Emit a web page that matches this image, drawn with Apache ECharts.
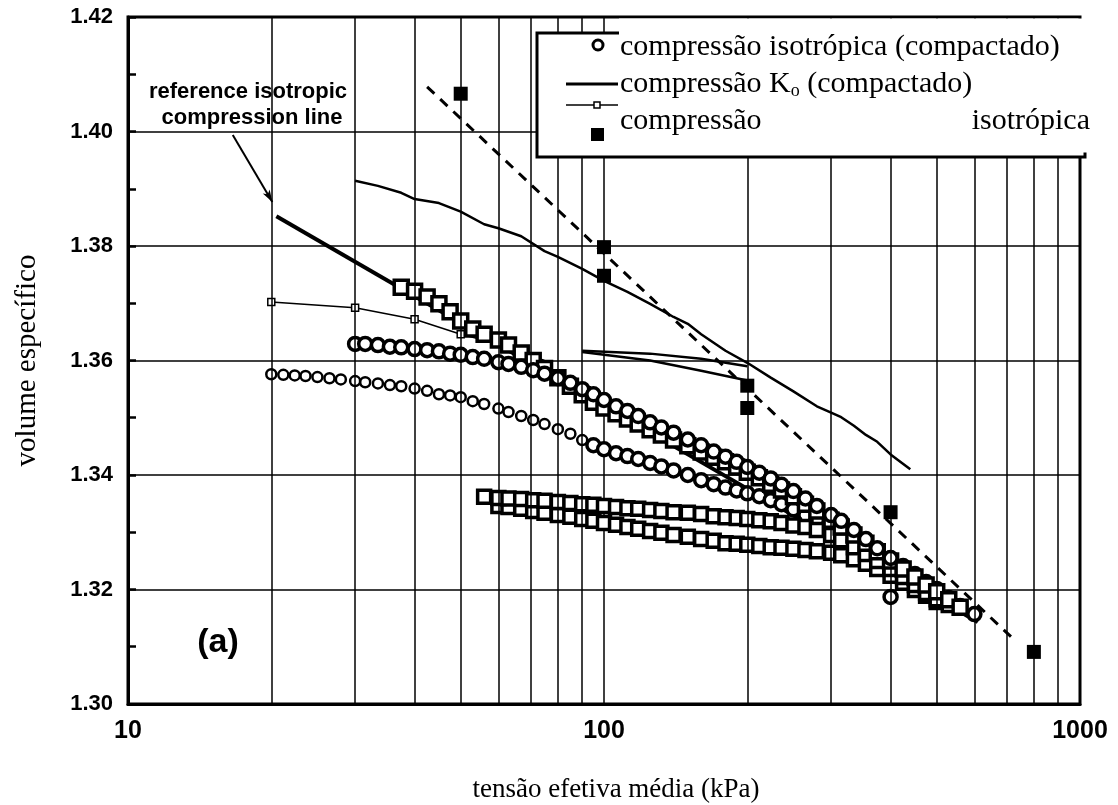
<!DOCTYPE html>
<html>
<head>
<meta charset="utf-8">
<script src="https://cdn.jsdelivr.net/npm/echarts@6/dist/echarts.min.js"></script>
<style>
html, body { margin: 0; padding: 0; background: #fff; }
#main { width: 1118px; height: 805px; }
</style>
</head>
<body>
<div id="main"></div>
<script>
// eixos
const xTicks = [10, 100, 1000];
const xMinorGrid = [20, 30, 40, 50, 60, 70, 80, 90, 200, 300, 400, 500, 600, 700, 800, 900];
const yTicks = [1.30, 1.32, 1.34, 1.36, 1.38, 1.40, 1.42];

// reference isotropic compression line
const refLine = [[20.5, 1.3852], [610, 1.3143]];

// compressão K0 (compactado)
const k0Main = [[30, 1.3914], [33.5, 1.3905], [37.5, 1.3893], [40, 1.3882], [45, 1.3875], [50, 1.3860],
  [56, 1.3838], [60, 1.3831], [67, 1.3817], [75, 1.3791], [80, 1.3781], [90, 1.3760], [100, 1.3739],
  [112, 1.3720], [125, 1.3699], [140, 1.3676], [150, 1.3664], [160, 1.3646], [180, 1.3617], [200, 1.3596],
  [224, 1.3570], [250, 1.3546], [280, 1.3520], [300, 1.3509], [315, 1.3501], [335, 1.3486], [355, 1.3470],
  [375, 1.3458], [400, 1.3436], [440, 1.3410]];
const k0LoopUp = [[90, 1.3617], [125, 1.3612], [160, 1.3603], [200, 1.3590]];
const k0LoopDown = [[90, 1.3615], [125, 1.3600], [160, 1.3582], [200, 1.3565]];

// compressão isotrópica (reconstituído)
const reconLine = [[42.5, 1.4078], [730, 1.3111]];
const reconPts = [[50, 1.4066], [100, 1.3798], [100, 1.3748], [200, 1.3556], [200, 1.3517], [400, 1.3335], [800, 1.3091]];

// linha fina com quadrados pequenos
const thinSq = [[20, 1.3702], [30, 1.3692], [40, 1.3672], [50, 1.3646]];
const thinTail = [[50, 1.3646], [60, 1.3629], [75, 1.3600]];

// compressão isotrópica (compactado) - círculos
const circlesBig = [[30, 1.3629], [31.5, 1.3629], [33.5, 1.3627], [35.5, 1.3624], [37.5, 1.3623], [40, 1.3620],
  [42.5, 1.3618], [45, 1.3616], [47.5, 1.3612], [50, 1.3610], [53, 1.3606], [56, 1.3603], [60, 1.3597],
  [63, 1.3594], [67, 1.3589], [71, 1.3583], [75, 1.3577], [80, 1.3569], [85, 1.3561], [90, 1.3550],
  [95, 1.3541], [100, 1.3531], [106, 1.3520], [112, 1.3512], [118, 1.3503], [125, 1.3492], [132, 1.3483],
  [140, 1.3474], [150, 1.3462], [160, 1.3452], [170, 1.3441], [180, 1.3432], [190, 1.3423], [200, 1.3414],
  [212, 1.3404], [224, 1.3394], [236, 1.3383], [250, 1.3372], [265, 1.3359], [280, 1.3346], [300, 1.3330],
  [315, 1.3320], [335, 1.3304], [355, 1.3288], [375, 1.3272], [400, 1.3255], [400, 1.3187]];
const circlesSmall = [[20, 1.3576], [21.2, 1.3575], [22.4, 1.3574], [23.6, 1.3573], [25, 1.3571], [26.5, 1.3569],
  [28, 1.3567], [30, 1.3564], [31.5, 1.3562], [33.5, 1.3560], [35.5, 1.3557], [37.5, 1.3555], [40, 1.3551],
  [42.5, 1.3547], [45, 1.3541], [47.5, 1.3539], [50, 1.3536], [53, 1.3529], [56, 1.3524], [60, 1.3516],
  [63, 1.3510], [67, 1.3503], [71, 1.3496], [75, 1.3489], [80, 1.3480], [85, 1.3472], [90, 1.3461],
  [95, 1.3452], [100, 1.3445], [106, 1.3438], [112, 1.3433], [118, 1.3428], [125, 1.3421], [132, 1.3415],
  [140, 1.3408], [150, 1.3400], [160, 1.3391], [170, 1.3384], [180, 1.3378], [190, 1.3373], [200, 1.3368],
  [212, 1.3363], [224, 1.3356], [236, 1.3349], [250, 1.3340], [265, 1.3330], [280, 1.3321], [300, 1.3310],
  [315, 1.3302], [335, 1.3289], [355, 1.3277], [375, 1.3266], [400, 1.3254], [425, 1.3241], [450, 1.3227],
  [475, 1.3213], [500, 1.3201], [530, 1.3185], [560, 1.3171], [600, 1.3157]];

// quadrados grandes abertos
const squaresUpper = [[37.5, 1.3728], [40, 1.3721], [42.5, 1.3711], [45, 1.3699], [47.5, 1.3685], [50, 1.3669],
  [53, 1.3655], [56, 1.3646], [60, 1.3636], [63, 1.3627], [67, 1.3613], [71, 1.3600], [75, 1.3586],
  [80, 1.3570], [85, 1.3555], [90, 1.3540], [95, 1.3527], [100, 1.3517], [106, 1.3507], [112, 1.3498],
  [118, 1.3489], [125, 1.3479], [132, 1.3470], [140, 1.3461], [150, 1.3451], [160, 1.3440], [170, 1.3431],
  [180, 1.3423], [190, 1.3414], [200, 1.3405], [212, 1.3395], [224, 1.3384], [236, 1.3374], [250, 1.3362],
  [265, 1.3349], [280, 1.3337], [300, 1.3321], [315, 1.3309], [335, 1.3295], [355, 1.3281], [375, 1.3266],
  [400, 1.3250], [425, 1.3236], [450, 1.3222], [475, 1.3208], [500, 1.3196], [530, 1.3182], [560, 1.3169]];
const squaresLowA = [[56, 1.3362], [60, 1.3360], [63, 1.3359], [67, 1.3358], [71, 1.3356], [75, 1.3355],
  [80, 1.3353], [85, 1.3351], [90, 1.3349], [95, 1.3348], [100, 1.3346], [106, 1.3344], [112, 1.3342],
  [118, 1.3341], [125, 1.3339], [132, 1.3337], [140, 1.3335], [150, 1.3334], [160, 1.3332], [170, 1.3328],
  [180, 1.3326], [190, 1.3325], [200, 1.3323], [212, 1.3321], [224, 1.3319], [236, 1.3316], [250, 1.3312],
  [265, 1.3309], [280, 1.3304], [300, 1.3295], [315, 1.3286], [335, 1.3274], [355, 1.3262], [375, 1.3250],
  [400, 1.3236], [425, 1.3222], [450, 1.3208], [475, 1.3194], [500, 1.3183], [530, 1.3173]];
const squaresLowB = [[60, 1.3346], [63, 1.3344], [67, 1.3341], [71, 1.3337], [75, 1.3334], [80, 1.3330],
  [85, 1.3327], [90, 1.3323], [95, 1.3320], [100, 1.3316], [106, 1.3313], [112, 1.3309], [118, 1.3306],
  [125, 1.3302], [132, 1.3299], [140, 1.3295], [150, 1.3292], [160, 1.3288], [170, 1.3285], [180, 1.3281],
  [190, 1.3280], [200, 1.3278], [212, 1.3276], [224, 1.3274], [236, 1.3273], [250, 1.3271], [265, 1.3269],
  [280, 1.3267], [300, 1.3264], [315, 1.3260], [335, 1.3253], [355, 1.3245], [375, 1.3236], [400, 1.3224],
  [425, 1.3212], [450, 1.3199], [475, 1.3189], [500, 1.3178]];

// seta da anotação
const arrowFrom = [16.6, 1.3994];
const arrowTo = [20.1, 1.3877];

const legendLines = ['compressão isotrópica (compactado)', '{a|compressão K}{s|o}{a| (compactado)}', 'compressão', 'isotrópica'];

var myChart = echarts.init(document.getElementById('main'));

function openMarks(name, data, symbol, size, border) {
  return {
    name: name,
    type: 'scatter',
    data: data,
    symbol: symbol,
    symbolSize: size,
    itemStyle: { color: '#fff', borderColor: '#000', borderWidth: border, opacity: 1 },
    z: 4,
    silent: true
  };
}

function plainLine(data, width, type) {
  return {
    type: 'line',
    data: data,
    symbol: 'none',
    lineStyle: { color: '#000', width: width, type: type || 'solid' },
    z: 3,
    silent: true
  };
}

// a partir de ~95 kPa os círculos pequenos formam uma faixa mais pesada
var smallCircleItems = circlesSmall.map(function (p) {
  return p[0] >= 95
    ? { value: p, symbolSize: 13, itemStyle: { borderWidth: 3.5 } }
    : { value: p };
});

var serif = '"Liberation Serif", "Times New Roman", serif';
var sans = '"Liberation Sans", Arial, sans-serif';

var option = {
  backgroundColor: '#fff',
  animation: false,
  grid: { left: 128, right: 38, top: 17, bottom: 101, outerBoundsMode: 'none',
    show: true, borderColor: '#000', borderWidth: 3 },
  xAxis: {
    type: 'log',
    logBase: 10,
    min: xTicks[0],
    max: xTicks[xTicks.length - 1],
    name: 'tensão efetiva média (kPa)',
    nameLocation: 'middle',
    nameGap: 72,
    nameTextStyle: { fontFamily: serif, fontSize: 27, color: '#000', padding: [0, 0, 0, 24] },
    axisLine: { show: true, lineStyle: { color: '#000', width: 3 } },
    axisTick: { show: false },
    axisLabel: { margin: 15, fontFamily: sans, fontWeight: 'bold', fontSize: 25, color: '#000',
      formatter: function (v) { return String(Math.round(v)); } },
    splitLine: { show: true, lineStyle: { color: '#000', width: 1.5 } }
  },
  yAxis: {
    type: 'value',
    min: yTicks[0],
    max: yTicks[yTicks.length - 1],
    interval: 0.02,
    name: 'volume específico',
    nameLocation: 'middle',
    nameGap: 86,
    nameTextStyle: { fontFamily: serif, fontSize: 29, color: '#000' },
    axisLine: { show: true, lineStyle: { color: '#000', width: 3 } },
    axisTick: { show: true, inside: true, length: 8, lineStyle: { color: '#000', width: 2.5 } },
    minorTick: { show: true, splitNumber: 2, length: 8, lineStyle: { color: '#000', width: 2.5 } },
    axisLabel: { margin: 15, fontFamily: sans, fontWeight: 'bold', fontSize: 22, color: '#000',
      formatter: function (v) { return v.toFixed(2); } },
    splitLine: { show: true, lineStyle: { color: '#000', width: 1.5 } }
  },
  series: [
    {
      type: 'line',
      data: [],
      silent: true,
      markLine: {
        silent: true,
        symbol: 'none',
        label: { show: false },
        lineStyle: { color: '#000', width: 1.5, type: 'solid' },
        data: xMinorGrid.map(function (v) { return { xAxis: v }; })
      }
    },
    {
      type: 'line',
      data: [],
      silent: true,
      markLine: {
        silent: true,
        symbol: ['none', 'arrow'],
        symbolSize: [6, 12],
        label: { show: false },
        lineStyle: { color: '#000', width: 2, type: 'solid' },
        data: [[{ coord: arrowFrom }, { coord: arrowTo }]]
      }
    },
    plainLine(refLine, 4),
    plainLine(k0Main, 2.5),
    plainLine(k0LoopUp, 2.5),
    plainLine(k0LoopDown, 2.5),
    plainLine(reconLine, 3, [10, 8]),
    plainLine(thinTail, 1.5),
    {
      type: 'line',
      data: thinSq,
      symbol: 'rect',
      symbolSize: 7,
      showAllSymbol: true,
      lineStyle: { color: '#000', width: 1.5 },
      itemStyle: { color: '#fff', borderColor: '#000', borderWidth: 1.5 },
      z: 4,
      silent: true
    },
    openMarks('círculos pequenos', smallCircleItems, 'circle', 10, 2.5),
    openMarks('quadrados inferiores B', squaresLowB, 'rect', 13, 3.5),
    openMarks('quadrados inferiores A', squaresLowA, 'rect', 13, 3.5),
    openMarks('quadrados superiores', squaresUpper, 'rect', 14, 3.5),
    openMarks('círculos grandes', circlesBig, 'circle', 13, 3.5),
    {
      type: 'scatter',
      data: reconPts,
      symbol: 'rect',
      symbolSize: 14,
      itemStyle: { color: '#000', opacity: 1 },
      z: 5,
      silent: true
    }
  ],
  graphic: [
    { type: 'rect', z: 100, shape: { x: 537, y: 33, width: 548, height: 124 },
      style: { fill: '#fff', stroke: '#000', lineWidth: 3 } },
    { type: 'rect', z: 101, shape: { x: 619, y: 18.5, width: 499, height: 134 },
      style: { fill: '#fff' } },
    { type: 'circle', z: 102, shape: { cx: 598, cy: 45, r: 5 },
      style: { fill: '#fff', stroke: '#000', lineWidth: 3 } },
    { type: 'line', z: 102, shape: { x1: 566, y1: 84, x2: 618, y2: 84 },
      style: { stroke: '#000', lineWidth: 3 } },
    { type: 'line', z: 102, shape: { x1: 566, y1: 105, x2: 618, y2: 105 },
      style: { stroke: '#000', lineWidth: 1.5 } },
    { type: 'rect', z: 103, shape: { x: 594, y: 102, width: 6, height: 6 },
      style: { fill: '#fff', stroke: '#000', lineWidth: 1.5 } },
    { type: 'rect', z: 102, shape: { x: 591, y: 128, width: 13, height: 13 },
      style: { fill: '#000' } },
    { type: 'text', z: 103, x: 620, y: 47,
      style: { text: legendLines[0], font: '30px ' + serif, fill: '#000', textVerticalAlign: 'middle', verticalAlign: 'middle' } },
    { type: 'text', z: 103, x: 620, y: 84,
      style: { text: legendLines[1], fill: '#000', textVerticalAlign: 'middle', verticalAlign: 'middle',
        rich: {
          a: { fontFamily: serif, fontSize: 30, color: '#000' },
          s: { fontFamily: serif, fontSize: 18, color: '#000', padding: [15, 0, 0, 0] }
        } } },
    { type: 'text', z: 103, x: 620, y: 121,
      style: { text: legendLines[2], font: '30px ' + serif, fill: '#000', textVerticalAlign: 'middle', verticalAlign: 'middle' } },
    { type: 'text', z: 103, x: 1090, y: 121,
      style: { text: legendLines[3], font: '30px ' + serif, fill: '#000', textAlign: 'right', align: 'right',
        textVerticalAlign: 'middle', verticalAlign: 'middle' } },
    { type: 'text', z: 50, x: 248, y: 92,
      style: { text: 'reference isotropic', font: 'bold 22px ' + sans, fill: '#000', textAlign: 'center', align: 'center',
        textVerticalAlign: 'middle', verticalAlign: 'middle' } },
    { type: 'text', z: 50, x: 252, y: 118,
      style: { text: 'compression line', font: 'bold 22px ' + sans, fill: '#000', textAlign: 'center', align: 'center',
        textVerticalAlign: 'middle', verticalAlign: 'middle' } },
    { type: 'text', z: 50, x: 218, y: 643,
      style: { text: '(a)', font: 'bold 34px ' + sans, fill: '#000', textAlign: 'center', align: 'center',
        textVerticalAlign: 'middle', verticalAlign: 'middle' } }
  ]
};

myChart.setOption(option);
</script>
</body>
</html>
